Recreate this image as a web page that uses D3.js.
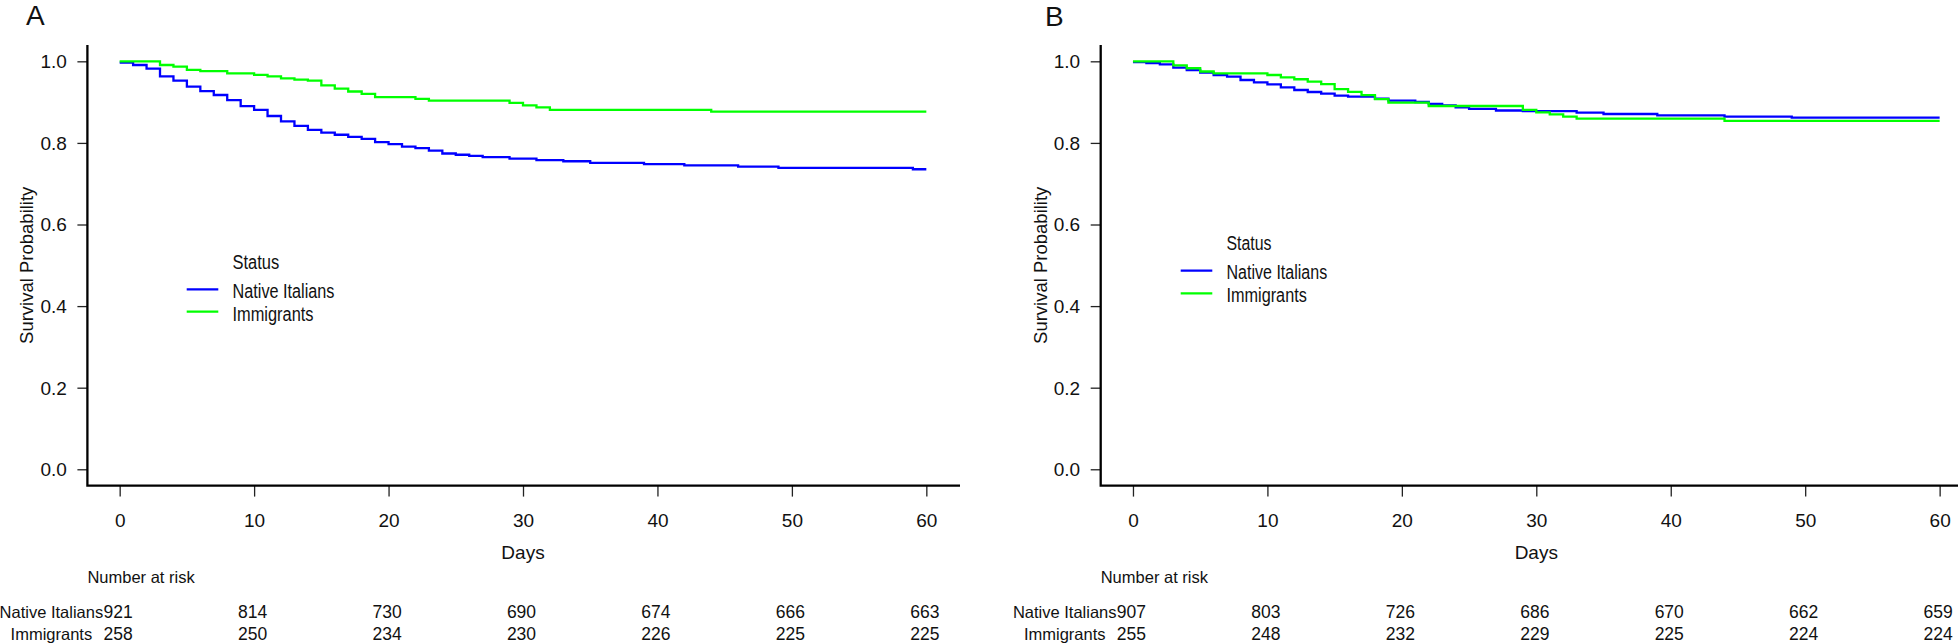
<!DOCTYPE html>
<html>
<head>
<meta charset="utf-8">
<script src="https://cdn.jsdelivr.net/npm/d3@7"></script>
<style>
  html, body { margin: 0; padding: 0; background: #ffffff; }
  svg { display: block; }
  text { font-family: "Liberation Sans", Arial, sans-serif; fill: #111; }
</style>
</head>
<body>
<svg id="chart" width="1958" height="644"></svg>
<script>
// ---------------- data ----------------
const panelTitles = ["A", "B"];
const groups = ["Native Italians", "Immigrants"];
const groupColors = ["#0000ff", "#00ff00"];
const xTickDays = [0, 10, 20, 30, 40, 50, 60];
const yTickVals = [0.0, 0.2, 0.4, 0.6, 0.8, 1.0];
const xLabel = "Days";
const yLabel = "Survival Probability";
const legendTitle = "Status";
const riskTitle = "Number at risk";

// Panel A - Native Italians (step times in days, survival after step)
const timeA_native = [0,1,2,3,4,5,6,7,8,9,10,11,12,13,14,15,16,17,18,19,20,21,22,23,24,25,26,27,29,31,33,35,39,42,46,49,59,60];
const survA_native = [0.997,0.991,0.982,0.963,0.9525,0.938,0.927,0.9175,0.905,0.890,0.881,0.866,0.853,0.842,0.832,0.825,0.820,0.815,0.810,0.802,0.797,0.791,0.787,0.781,0.774,0.771,0.768,0.765,0.7615,0.758,0.755,0.751,0.748,0.745,0.742,0.7386,0.7355,0.7355];
// Panel A - Immigrants
const timeA_imm = [0,3,4,5,6,8,10,11,12,13,14,15,16,17,18,19,22,23,29,30,31,32,44,60];
const survA_imm = [1.0,0.991,0.987,0.979,0.976,0.9705,0.967,0.963,0.958,0.955,0.9525,0.941,0.933,0.926,0.920,0.912,0.908,0.9035,0.898,0.892,0.887,0.881,0.8765,0.8765];
// Panel B - Native Italians
const timeB_native = [0,1,2,3,4,5,6,7,8,9,10,11,12,13,14,15,16,18,19,21,22,23,24,25,27,29,33,35,39,44,49,60];
const survB_native = [0.998,0.9958,0.9926,0.9844,0.9787,0.9722,0.9665,0.9624,0.9542,0.9485,0.9436,0.9362,0.9297,0.9248,0.9207,0.9158,0.9134,0.9085,0.9036,0.9003,0.8954,0.8921,0.8872,0.8832,0.8795,0.878,0.8742,0.8709,0.8676,0.8644,0.862,0.862];
// Panel B - Immigrants
const timeB_imm = [0,3,4,5,6,10,11,12,13,14,15,16,17,18,19,22,29,30,31,32,33,44,60];
const survB_imm = [1.0,0.990,0.983,0.975,0.9705,0.9665,0.9607,0.956,0.950,0.944,0.932,0.925,0.917,0.9075,0.8987,0.8905,0.881,0.875,0.870,0.8644,0.8595,0.8538,0.8538];

// Numbers at risk
const riskA_native = [921, 814, 730, 690, 674, 666, 663];
const riskA_imm    = [258, 250, 234, 230, 226, 225, 225];
const riskB_native = [907, 803, 726, 686, 670, 662, 659];
const riskB_imm    = [255, 248, 232, 229, 225, 224, 224];

// ---------------- drawing ----------------
const svg = d3.select("#chart");
svg.append("rect").attr("width", 1958).attr("height", 644).attr("fill", "#fff");

function zip(t, s) { return t.map((d, i) => ({ t: d, s: s[i] })); }

function drawPanel(cfg) {
  const g = svg.append("g");
  const x = d3.scaleLinear().domain([-2.4, 62.4]).range([cfg.left, cfg.left + 871.2]);
  const y = d3.scaleLinear().domain([-0.04, 1.04]).range([485.6, 45.0]);
  const x0 = x(-2.4), yb = y(-0.04);

  // title
  g.append("text").attr("x", cfg.titleX).attr("y", cfg.titleY)
    .attr("font-size", 28).attr("fill", "#000").text(cfg.title);

  // curves (blue first, green on top)
  const line = d3.line().x(d => x(d.t)).y(d => y(d.s)).curve(d3.curveStepAfter);
  cfg.series.forEach((sr, i) => {
    g.append("path").datum(sr).attr("d", line)
      .attr("fill", "none").attr("stroke", groupColors[i]).attr("stroke-width", 2.3);
  });

  // y axis
  const yAxis = d3.axisLeft(y).tickValues(yTickVals).tickFormat(d3.format(".1f"))
    .tickSize(10).tickPadding(10.5);
  const gy = g.append("g").attr("transform", `translate(${x0},0)`).call(yAxis);
  gy.select(".domain").remove();
  gy.selectAll(".tick line").attr("stroke", "#222").attr("stroke-width", 1.3);
  gy.selectAll(".tick text").attr("font-size", 19).attr("font-family", "Liberation Sans, Arial, sans-serif")
    .attr("fill", "#111").attr("dy", "0.34em");

  // x axis
  const xAxis = d3.axisBottom(x).tickValues(xTickDays).tickFormat(d3.format("d"))
    .tickSize(11).tickPadding(4);
  const gx = g.append("g").attr("transform", `translate(0,${yb})`).call(xAxis);
  gx.select(".domain").remove();
  gx.selectAll(".tick line").attr("stroke", "#222").attr("stroke-width", 1.3);
  gx.selectAll(".tick text").attr("font-size", 19).attr("font-family", "Liberation Sans, Arial, sans-serif")
    .attr("fill", "#111").attr("dy", 0).attr("y", 41.5);

  // L-shaped box
  g.append("path")
    .attr("d", `M${x0},${y(1.04)}V${yb}H${cfg.boxRight}`)
    .attr("fill", "none").attr("stroke", "#000").attr("stroke-width", 2.3);

  // axis labels
  g.append("text").attr("x", x(30)).attr("y", 559).attr("text-anchor", "middle")
    .attr("font-size", 19).text(xLabel);
  g.append("text").attr("transform", `translate(${x0 - 54},${y(0.5)}) rotate(-90)`)
    .attr("text-anchor", "middle").attr("font-size", 18.5).text(yLabel);

  // legend
  const L = cfg.legend;
  g.append("text").attr("x", L.textX).attr("y", L.titleY).attr("font-size", 20)
    .attr("textLength", L.wTitle).attr("lengthAdjust", "spacingAndGlyphs").text(legendTitle);
  groups.forEach((name, i) => {
    g.append("line").attr("x1", L.lineX1).attr("x2", L.lineX2)
      .attr("y1", L.lineY[i]).attr("y2", L.lineY[i])
      .attr("stroke", groupColors[i]).attr("stroke-width", 2.3);
    g.append("text").attr("x", L.textX).attr("y", L.textY[i]).attr("font-size", 20)
      .attr("textLength", L.w[i]).attr("lengthAdjust", "spacingAndGlyphs").text(name);
  });

  // risk table
  g.append("text").attr("x", x0).attr("y", 583.3).attr("font-size", 16.5).text(riskTitle);
  const rowY = [618.3, 640];
  cfg.risk.forEach((vals, i) => {
    g.append("text").attr("x", x0 - 36).attr("y", rowY[i]).attr("text-anchor", "middle")
      .attr("font-size", 16.5).text(groups[i]);
    g.selectAll(null).data(vals).enter().append("text")
      .attr("x", (d, j) => x(xTickDays[j]) - 1.5).attr("y", rowY[i])
      .attr("text-anchor", "middle").attr("font-size", 17.5).text(d => d);
  });
}

drawPanel({
  title: panelTitles[0], titleX: 26, titleY: 25,
  left: 87.4, boxRight: 960,
  series: [zip(timeA_native, survA_native), zip(timeA_imm, survA_imm)],
  risk: [riskA_native, riskA_imm],
  legend: { lineX1: 186.7, lineX2: 218.3, lineY: [289.3, 311.7], textX: 232.5,
            titleY: 269, textY: [298.3, 320.7], wTitle: 46.7, w: [102, 81] }
});

drawPanel({
  title: panelTitles[1], titleX: 1045, titleY: 26,
  left: 1100.7, boxRight: 1958,
  series: [zip(timeB_native, survB_native), zip(timeB_imm, survB_imm)],
  risk: [riskB_native, riskB_imm],
  legend: { lineX1: 1180.7, lineX2: 1212.3, lineY: [270.7, 293.3], textX: 1226.5,
            titleY: 250, textY: [279.3, 301.7], wTitle: 45, w: [100.7, 80.3] }
});
</script>
</body>
</html>
